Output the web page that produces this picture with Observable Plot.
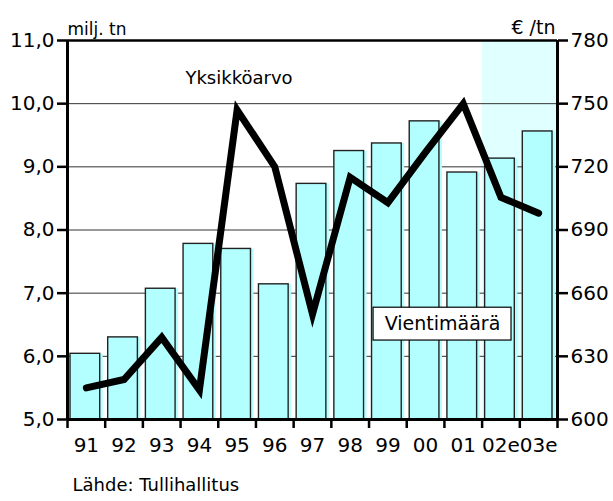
<!DOCTYPE html>
<html>
<head>
<meta charset="utf-8">
<script src="https://cdn.jsdelivr.net/npm/d3@7"></script>
<script src="https://cdn.jsdelivr.net/npm/@observablehq/plot@0.6"></script>
<style>
  html, body { margin: 0; padding: 0; background: #fff; }
  svg { overflow: visible; }
</style>
</head>
<body>
<div id="chart"></div>
<script>
const years = ["91","92","93","94","95","96","97","98","99","00","01","02e","03e"];
const volume = [6.04, 6.30, 7.07, 7.78, 7.70, 7.14, 8.73, 9.25, 9.37, 9.72, 8.91, 9.13, 9.56];
const unitValue = [615, 619, 639, 614, 747, 720, 650, 715, 703, 727, 750, 705.5, 698];
const leftTicks = [5, 6, 7, 8, 9, 10, 11];
const rightTicks = [600, 630, 660, 690, 720, 750, 780];
const leftUnit = "milj. tn";
const rightUnit = "€ /tn";
const lineLabel = "Yksikköarvo";
const barLabel = "Vientimäärä";
const source = "Lähde: Tullihallitus";

const ratio = (rightTicks[1] - rightTicks[0]) / (leftTicks[1] - leftTicks[0]);
const toLeft = v => leftTicks[0] + (v - rightTicks[0]) / ratio;
const yMin = leftTicks[0], yMax = leftTicks[leftTicks.length - 1];
const n = years.length;
const rows = years.map((year, i) => ({year, i, volume: volume[i], unit: unitValue[i]}));
const fStart = years.findIndex(y => y.endsWith("e"));

const cyan = "#b3ffff";
const font = "DejaVu Sans";

const chart = Plot.plot({
  width: 613,
  height: 501,
  marginLeft: 67,
  marginRight: 56,
  marginTop: 40,
  marginBottom: 82,
  style: {fontFamily: font, background: "#fff", color: "#000"},
  x: {type: "linear", domain: [0, n], axis: null},
  y: {domain: [yMin, yMax], axis: null},
  marks: [
    Plot.rect([0], {x1: fStart, x2: n, y1: yMin, y2: yMax, fill: "#e0ffff"}),
    Plot.ruleY(leftTicks.slice(1, -1), {stroke: "#333", strokeWidth: 1}),
    Plot.rectY(rows, {x1: d => d.i, x2: d => d.i + 1, y1: yMin, y2: "volume", insetLeft: 3, insetRight: 5, dx: 3, fill: cyan}),
    Plot.rectY(rows, {x1: d => d.i, x2: d => d.i + 1, y1: yMin, y2: "volume", insetLeft: 3, insetRight: 5, fill: cyan, stroke: "#222", strokeWidth: 1.4}),
    Plot.ruleY([yMax], {stroke: "#000", strokeWidth: 2.5}),
    Plot.ruleY([yMin], {stroke: "#000", strokeWidth: 3}),
    Plot.ruleX([0, n], {stroke: "#000", strokeWidth: 3}),
    Plot.axisY(leftTicks, {anchor: "left", tickSize: 10, tickPadding: 3, strokeWidth: 2.5, fontSize: 20, label: null,
      tickFormat: d => d.toFixed(1).replace(".", ",")}),
    Plot.axisY(leftTicks, {anchor: "right", tickSize: 10, tickPadding: 3, strokeWidth: 2.5, fontSize: 20, label: null,
      tickFormat: d => String(rightTicks[leftTicks.indexOf(d)])}),
    Plot.axisX(d3.range(0, n + 1), {tickSize: 9, strokeWidth: 2.5, tickFormat: () => "", label: null}),
    Plot.axisX(years.map((_, i) => i + 0.5), {tickSize: 0, tickPadding: 18, fontSize: 20, label: null,
      tickFormat: d => years[Math.floor(d)]}),
    Plot.line(rows, {x: d => d.i + 0.5, y: d => toLeft(d.unit), stroke: "#000", strokeWidth: 7, strokeLinejoin: "miter", strokeMiterlimit: 10}),
    Plot.text([lineLabel], {x: 4.55, y: 10.4, text: d => d, fontSize: 18, fill: "#000"}),
    Plot.rect([0], {x1: 8.12, x2: 11.78, y1: 6.25, y2: 6.77, fill: "#fff", stroke: "#000", strokeWidth: 1.2}),
    Plot.text([barLabel], {x: 9.95, y: 6.51, text: d => d, fontSize: 19, fill: "#000"}),
    Plot.text([leftUnit], {frameAnchor: "top-left", textAnchor: "start", dy: -18, text: d => d, fontSize: 17, fill: "#000"}),
    Plot.text([rightUnit], {frameAnchor: "top-right", textAnchor: "end", dy: -20, dx: -2, text: d => d, fontSize: 19, fill: "#000"}),
    Plot.text([source], {frameAnchor: "bottom-left", textAnchor: "start", dy: 71, dx: 5, text: d => d, fontSize: 18, fill: "#000"})
  ]
});
document.getElementById("chart").append(chart);
</script>
</body>
</html>
